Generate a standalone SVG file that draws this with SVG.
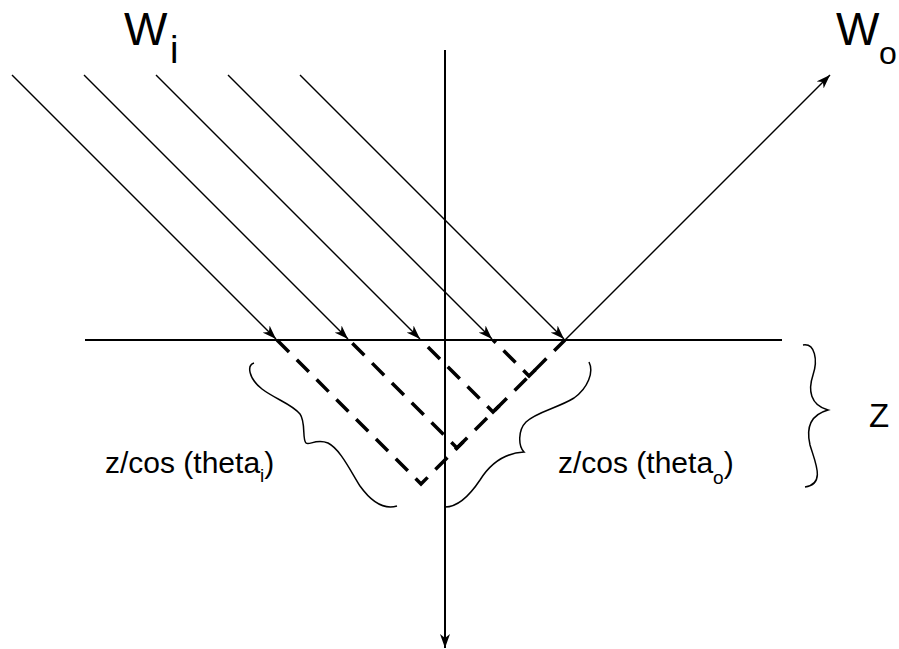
<svg xmlns="http://www.w3.org/2000/svg" width="899" height="649" viewBox="0 0 899 649">
<style>
.ray{stroke:#000;stroke-width:1.4;fill:none}
.axis{stroke:#000;stroke-width:2;fill:none}
.dash{stroke:#000;stroke-width:3.5;fill:none;stroke-dasharray:17 11}
.brace{stroke:#000;stroke-width:1.5;fill:none}
.lbl{font-family:"Liberation Sans",Arial,sans-serif;fill:#000}
</style>
<defs>
<marker id="arr" viewBox="0 0 14 10" refX="14" refY="5" markerWidth="14" markerHeight="10" orient="auto" markerUnits="userSpaceOnUse"><path d="M0,0 L14,5 L0,10 L4,5 z" fill="#000"/></marker>
</defs>
<rect width="899" height="649" fill="#fff"/>
<g id="axes">
<line class="axis" x1="85" y1="340" x2="782" y2="340"/>
<line class="axis" x1="445" y1="50" x2="445" y2="648" marker-end="url(#arr)"/>
</g>
<g id="connectors">
<line class="ray" x1="12" y1="75" x2="276" y2="339" marker-end="url(#arr)"/>
<line class="ray" x1="84" y1="75" x2="348" y2="339" marker-end="url(#arr)"/>
<line class="ray" x1="156" y1="75" x2="420" y2="339" marker-end="url(#arr)"/>
<line class="ray" x1="228" y1="75" x2="492" y2="339" marker-end="url(#arr)"/>
<line class="ray" x1="300" y1="75" x2="564" y2="339" marker-end="url(#arr)"/>
<line class="ray" x1="565" y1="340" x2="830" y2="75" marker-end="url(#arr)"/>
</g>
<g id="paths">
<polyline class="dash" points="277,340 421,484 565,340"/>
<polyline class="dash" points="349,340 457,448 463.5,441.5" stroke-dashoffset="23.3"/>
<polyline class="dash" points="421,340 493,412 499.5,405.5" stroke-dashoffset="18.2"/>
<polyline class="dash" points="493,340 529,376 535.5,369.5" stroke-dashoffset="13.1"/>
</g>
<g id="braces">
<path class="brace" d="M254,363 C247,365 248,378 262,389 C275,399 292,404 300,414 C306,422 302,440 306,443 C309,446 316,438 328,443 C340,449 350,470 360,486 C370,500 383,510 397,506"/>
<path class="brace" d="M445,507 C458,507 470,495 480,480 C490,464 505,453 524,452 C518,446 518,430 526,422 C536,412 558,408 574,398 C588,388 594,372 589,362"/>
<path class="brace" d="M803,345 C815,343 818,360 813,375 C808,390 810,405 828,410 C810,415 806,428 810,445 C815,462 826,484 805,487"/>
</g>
<g id="label-wi">
<text class="lbl" x="124" y="45" font-size="46">W</text>
<text class="lbl" x="170" y="63" font-size="38">i</text>
</g>
<g id="label-wo">
<text class="lbl" x="836" y="45" font-size="46">W</text>
<text class="lbl" x="879" y="64" font-size="32">o</text>
</g>
<g id="label-z">
<text class="lbl" x="869" y="427" font-size="33">Z</text>
</g>
<g id="label-thetai">
<text class="lbl" x="105" y="473" font-size="30">z/cos (theta<tspan font-size="19" dy="9">i</tspan><tspan dy="-9">)</tspan></text>
</g>
<g id="label-thetao">
<text class="lbl" x="558" y="473" font-size="30">z/cos (theta<tspan font-size="19" dy="11">o</tspan><tspan dy="-11">)</tspan></text>
</g>
</svg>
